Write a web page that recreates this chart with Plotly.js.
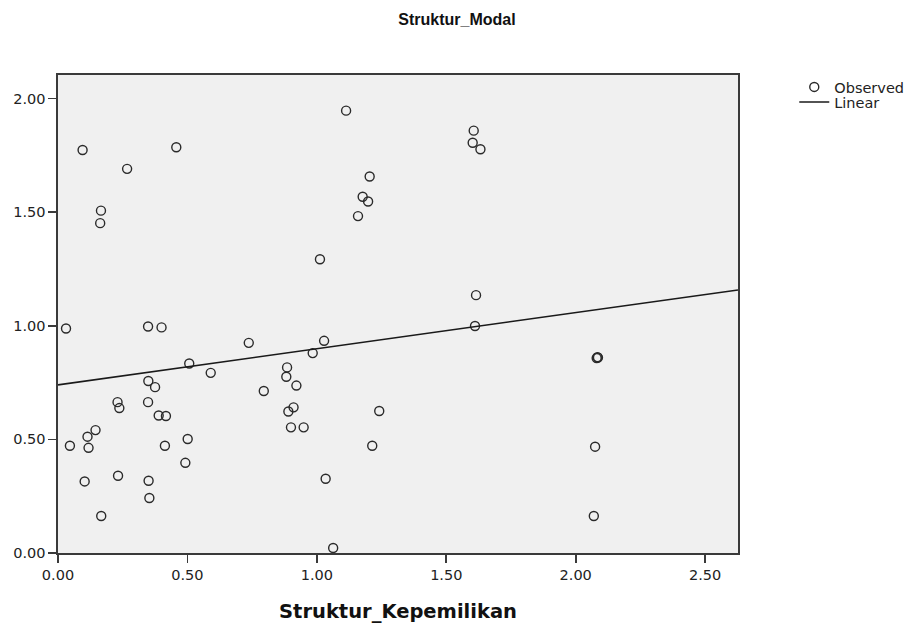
<!DOCTYPE html>
<html>
<head>
<meta charset="utf-8">
<script src="https://cdn.plot.ly/plotly-3.0.1.min.js"></script>
<style>html,body{margin:0;padding:0;background:#fff;}#chart{width:914px;height:623px;}</style>
</head>
<body>
<div id="chart"></div>
<script>
// Observed points: Struktur_Kepemilikan (x) vs Struktur_Modal (y)
var obsX = [0.095,0.267,0.457,0.166,0.163,
  0.031,0.348,0.400,0.737,0.507,0.590,0.885,0.882,0.921,0.795,0.349,0.375,0.230,0.237,0.348,
  0.389,0.417,0.890,0.910,0.900,0.949,0.145,0.114,0.118,0.046,0.501,0.413,0.492,0.103,0.232,
  0.350,0.353,0.167,
  1.113,1.606,1.602,1.632,1.204,1.177,1.198,1.159,1.012,1.615,
  1.028,0.984,1.611,1.241,1.214,1.034,1.063,
  2.081,2.084,2.086,2.075,2.070];
var obsY = [1.774,1.691,1.786,1.507,1.452,
  0.988,0.997,0.993,0.925,0.834,0.793,0.817,0.776,0.737,0.713,0.757,0.730,0.664,0.638,0.664,
  0.605,0.603,0.623,0.641,0.553,0.553,0.541,0.512,0.463,0.472,0.502,0.472,0.397,0.315,0.340,
  0.318,0.242,0.163,
  1.947,1.859,1.806,1.777,1.657,1.568,1.547,1.483,1.293,1.135,
  0.934,0.880,0.999,0.625,0.472,0.327,0.022,
  0.858,0.862,0.860,0.468,0.163];
// Linear fit line (at the axis ends)
var fitX = [0, 2.627];
var fitY = [0.740, 1.158];
var xTicks = [0, 0.5, 1.0, 1.5, 2.0, 2.5];
var yTicks = [0, 0.5, 1.0, 1.5, 2.0];

var font = 'DejaVu Sans, Verdana, sans-serif';
var titleFont = 'Liberation Sans, Arial, sans-serif';
var traces = [
  {x: obsX, y: obsY, mode: 'markers', type: 'scatter', name: 'Observed', legend: 'legend',
   marker: {symbol: 'circle-open', size: 9, color: '#2a2a2a', line: {width: 1.4, color: '#2a2a2a'}}},
  {x: fitX, y: fitY, mode: 'lines', type: 'scatter', name: 'Linear', legend: 'legend2',
   line: {color: '#1a1a1a', width: 1.6}}
];
var axisCommon = {
  showgrid: false, zeroline: false, showline: true, mirror: true, automargin: false,
  linecolor: '#3a3a3a', linewidth: 1.6, ticks: 'outside', ticklen: 8, tickwidth: 1.6, tickcolor: '#3a3a3a',
  tickformat: '.2f', tickfont: {family: font, size: 14.5, color: '#222'}
};
var legendCommon = {x: 0.869, xref: 'container', xanchor: 'left', yref: 'container', yanchor: 'middle',
  bgcolor: 'rgba(0,0,0,0)', font: {family: font, size: 14.5, color: '#222'},
  tracegroupgap: 0, itemwidth: 30, borderwidth: 0};
var layout = {
  width: 914, height: 623,
  paper_bgcolor: '#ffffff', plot_bgcolor: '#f0f0f0',
  margin: {l: 58, r: 176, t: 75, b: 70, autoexpand: false},
  title: {text: '<b>Struktur_Modal</b>', x: 0.5, xref: 'container', xanchor: 'center',
          y: 1 - 19/623, yref: 'container', yanchor: 'middle',
          font: {family: titleFont, size: 16, color: '#111'}},
  xaxis: Object.assign({}, axisCommon, {range: [0, 2.627], tickvals: xTicks,
          title: {text: '<b>Struktur_Kepemilikan</b>', standoff: 22, font: {family: font, size: 19.5, color: '#111'}}}),
  yaxis: Object.assign({}, axisCommon, {range: [0, 2.104], tickvals: yTicks}),
  showlegend: true,
  legend: Object.assign({}, legendCommon, {y: 1 - 87/623}),
  legend2: Object.assign({}, legendCommon, {y: 1 - 102/623})
};
Plotly.newPlot('chart', traces, layout, {displayModeBar: false, staticPlot: true});
</script>
</body>
</html>
